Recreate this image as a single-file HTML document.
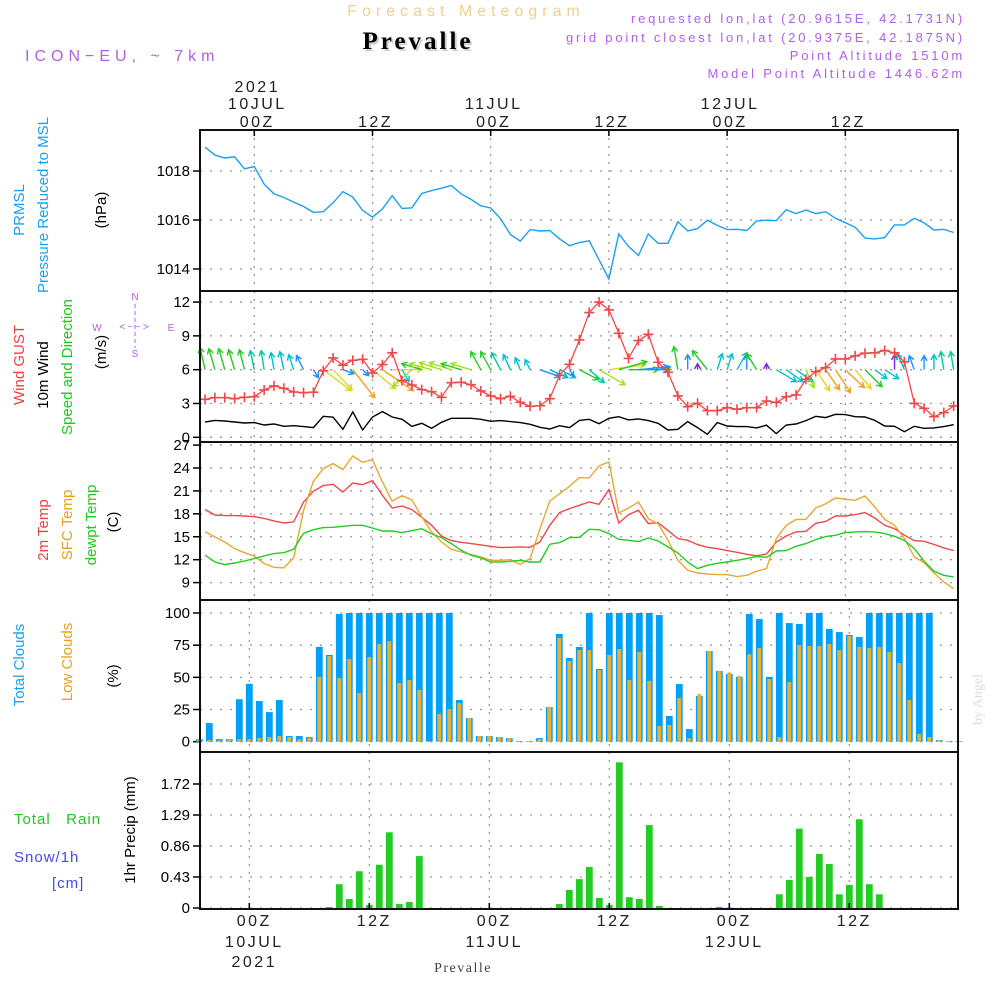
<!DOCTYPE html>
<html><head><meta charset="utf-8"><title>Prevalle Meteogram</title>
<style>
html,body{margin:0;padding:0;background:#fff;}
svg{display:block;font-family:"Liberation Sans",sans-serif;}
</style></head>
<body>
<svg id="chart" width="1000" height="1000" viewBox="0 0 1000 1000" xmlns="http://www.w3.org/2000/svg">
<rect x="0" y="0" width="1000" height="1000" fill="#fff"/>
<text x="466" y="16" text-anchor="middle" font-size="16" fill="#f2cf8c" letter-spacing="5">Forecast Meteogram</text>
<text x="418" y="49" text-anchor="middle" font-size="25" font-weight="bold" font-family="Liberation Serif,serif" fill="#c8d4c8" letter-spacing="3" transform="translate(2,2)">Prevalle</text>
<text x="418" y="49" text-anchor="middle" font-size="25" font-weight="bold" font-family="Liberation Serif,serif" fill="#000" letter-spacing="3">Prevalle</text>
<text x="25" y="61" font-size="16" fill="#b060e8" letter-spacing="5">ICON−EU, ~ 7km</text>
<g font-size="13" fill="#b060e8" text-anchor="end" letter-spacing="2.8">
<text x="965" y="23">requested lon,lat (20.9615E, 42.1731N)</text>
<text x="965" y="42">grid point closest lon,lat (20.9375E, 42.1875N)</text>
<text x="965" y="60">Point Altitude 1510m</text>
<text x="965" y="78">Model Point Altitude 1446.62m</text>
</g>
<text x="0" y="0" font-size="14" fill="#ddd" font-family="Liberation Serif,serif" transform="translate(982,725) rotate(-90)">by Angel</text>
<g id="labels" font-size="15">
<g>
<text transform="translate(24,210) rotate(-90)" text-anchor="middle" fill="#1aa0f0">PRMSL</text>
<text transform="translate(48,205) rotate(-90)" text-anchor="middle" fill="#1aa0f0">Pressure Reduced to MSL</text>
<text transform="translate(106,210) rotate(-90)" text-anchor="middle" fill="#000">(hPa)</text>
</g>
<g>
<text transform="translate(24,365) rotate(-90)" text-anchor="middle" fill="#f04040">Wind GUST</text>
<text transform="translate(48,375) rotate(-90)" text-anchor="middle" fill="#000">10m Wind</text>
<text transform="translate(72,367) rotate(-90)" text-anchor="middle" fill="#22c822">Speed and Direction</text>
<text transform="translate(106,352) rotate(-90)" text-anchor="middle" fill="#000">(m/s)</text>
</g>
<g font-size="10" fill="#b060e8">
<text x="135" y="300" text-anchor="middle">N</text>
<text x="135" y="357" text-anchor="middle">S</text>
<text x="97" y="331" text-anchor="middle">W</text>
<text x="171" y="331" text-anchor="middle">E</text>
<text x="135" y="330" text-anchor="middle" font-size="10" letter-spacing="2">&lt;−−&gt;</text>
<line x1="135" y1="304" x2="135" y2="348" stroke="#b060e8" stroke-dasharray="4,3"/>
</g>
<g>
<text transform="translate(48,530) rotate(-90)" text-anchor="middle" fill="#f04040">2m Temp</text>
<text transform="translate(72,525) rotate(-90)" text-anchor="middle" fill="#e8a020">SFC Temp</text>
<text transform="translate(96,525) rotate(-90)" text-anchor="middle" fill="#22c822">dewpt Temp</text>
<text transform="translate(118,522) rotate(-90)" text-anchor="middle" fill="#000">(C)</text>
</g>
<g>
<text transform="translate(24,665) rotate(-90)" text-anchor="middle" fill="#1aa0f0">Total Clouds</text>
<text transform="translate(72,662) rotate(-90)" text-anchor="middle" fill="#e8a020">Low Clouds</text>
<text transform="translate(118,676) rotate(-90)" text-anchor="middle" fill="#000">(%)</text>
</g>
<g>
<text x="14" y="824" fill="#22c822" letter-spacing="1" xml:space="preserve">Total   Rain</text>
<text x="14" y="862" fill="#4848f0" letter-spacing="1">Snow/1h</text>
<text x="52" y="888" fill="#4848f0" letter-spacing="1">[cm]</text>
<text transform="translate(135,830) rotate(-90)" text-anchor="middle" fill="#000">1hr Precip (mm)</text>
</g>
<text x="463" y="972" text-anchor="middle" font-size="14" font-family="Liberation Serif,serif" fill="#444" letter-spacing="1.5">Prevalle</text>
</g>
<g id="plot"></g>
</svg>
<script>
// ---- data (hourly, starting hour -5 relative to 00Z 10JUL) ----
const startHour = -5;
const pressure = [1018.97,1018.65,1018.53,1018.58,1018.09,1018.18,1017.46,1017.07,1016.92,1016.73,1016.55,1016.31,1016.34,1016.70,1017.16,1016.93,1016.39,1016.12,1016.45,1016.99,1016.47,1016.50,1017.08,1017.20,1017.30,1017.41,1017.07,1016.84,1016.58,1016.49,1016.05,1015.41,1015.14,1015.61,1015.55,1015.57,1015.23,1014.95,1015.08,1015.15,1014.38,1013.59,1015.43,1014.92,1014.55,1015.43,1015.05,1015.05,1015.93,1015.55,1015.65,1015.99,1015.78,1015.61,1015.62,1015.57,1015.96,1015.99,1015.97,1016.42,1016.26,1016.41,1016.26,1016.34,1016.07,1015.89,1015.70,1015.26,1015.23,1015.28,1015.80,1015.80,1016.07,1015.88,1015.59,1015.62,1015.49];
const windGust = [3.37,3.52,3.52,3.43,3.55,3.6,4.2,4.56,4.35,4.02,3.96,4.0,5.9,7.04,6.4,6.83,6.92,5.7,6.45,7.5,5.03,4.64,4.23,4.05,3.55,4.85,4.88,4.67,4.11,3.67,3.43,3.64,3.1,2.75,2.8,3.43,5.5,6.48,8.64,11.07,12.0,11.3,9.23,7.0,8.58,9.14,6.66,5.77,3.67,2.72,3.02,2.37,2.37,2.63,2.49,2.63,2.63,3.22,3.1,3.6,3.76,5.15,5.83,6.18,6.95,6.95,7.22,7.46,7.5,7.7,7.5,6.7,3.02,2.57,1.83,2.19,2.78];
const windSpeed = [1.36,1.5,1.45,1.36,1.27,1.3,1.09,1.18,0.98,1.03,0.95,0.86,1.86,1.78,0.71,2.25,0.65,1.8,2.28,1.8,1.6,0.98,1.24,0.8,1.33,1.69,1.69,1.69,1.6,1.42,1.48,1.39,1.3,1.15,0.89,0.74,1.03,0.86,1.5,1.6,1.21,1.69,1.83,1.54,1.63,1.48,1.24,0.65,0.71,1.39,0.86,0.27,1.3,1.0,0.95,0.95,0.83,1.07,0.33,1.09,1.18,1.48,1.86,1.75,2.04,2.01,1.83,1.8,1.5,1.0,0.98,0.5,0.98,0.8,0.83,0.95,1.12];
const arrowU = [-5,-6,-6,-6,-5,-4,-3,-3,-4,-5,-7,5,28,19,11,22,6,23,31,30,7,-19,-20,-22,-22,-22,-20,-20,-10,-10,-9,-7,-5,-5,20,18,16,4,19,15,26,36,28,30,30,20,12,2,-4,0,0,-15,5,5,10,0,-10,0,20,17,17,8,14,14,15,19,16,17,12,14,0,-7,-5,0,0,-3,-3];
const arrowV = [-22,-21,-21,-20,-20,-19,-19,-17,-18,-15,-14,8,21,20,4,28,6,19,21,0,12,17,-6,-6,-7,-7,-6,-6,-18,-18,-17,-15,-12,-10,7,8,8,7,10,13,15,-5,-8,0,-3,0,-3,-2,-23,-15,-6,-19,-16,-16,-17,-15,-16,-6,12,12,12,18,21,20,23,18,19,17,9,9,-15,-16,-14,-14,-15,-18,-18];
const arrowColor = ["g","g","g","g","g","t","t","c","c","c","b","b","y","y","b","o","b","y","o","y","c","yg","g","yg","yg","yg","g","yg","g","g","t","c","c","c","b","c","c","b","g","t","yg","y","g","g","b","b","b","g","g","b","p","g","c","c","c","b","g","p","c","c","t","yg","y","o","o","o","y","g","c","c","p","c","b","b","c","t","t"];
const temp2m = [18.55,17.85,17.77,17.77,17.72,17.63,17.4,17.07,16.8,16.94,19.55,20.95,21.7,21.86,20.86,22.04,21.82,22.35,20.43,18.77,19.03,18.55,17.55,16.5,15.1,14.5,14.28,14.1,13.93,13.75,13.58,13.62,13.67,13.62,14.32,16.5,18.16,18.68,19.12,19.55,19.25,21.17,16.8,17.9,18.46,16.72,16.85,15.8,14.76,14.54,13.97,13.62,13.45,13.19,12.97,12.7,12.5,12.75,14.32,15.1,15.63,15.72,16.76,17.0,17.72,17.72,17.9,18.16,17.46,16.5,16.06,15.2,14.5,14.41,14.0,13.54,13.19];
const tempSfc = [15.67,14.97,14.32,13.45,12.92,12.45,11.49,11.0,10.92,12.23,18.46,22.26,23.92,24.57,23.78,25.57,24.74,25.09,22.17,19.68,20.38,19.82,17.59,15.63,14.32,13.36,13.01,12.66,12.36,11.92,11.92,12.0,11.4,12.14,16.06,19.68,20.64,21.6,22.74,22.7,24.27,24.79,18.11,18.77,19.55,17.37,16.72,14.54,11.92,10.61,10.26,10.13,10.05,10.05,9.78,9.96,10.48,10.83,14.76,16.5,17.24,17.29,18.77,19.3,20.08,19.9,19.77,20.34,18.9,17.29,16.5,14.76,12.36,11.62,10.26,9.09,8.2];
const dewpoint = [12.58,11.7,11.35,11.57,11.83,12.14,12.49,12.79,12.92,13.36,15.45,15.93,16.2,16.24,16.37,16.5,16.5,16.15,15.76,15.76,15.54,15.8,16.06,15.37,14.89,14.1,13.23,12.58,12.23,11.7,11.7,11.79,11.92,11.7,11.7,14.02,14.23,14.89,14.93,15.98,15.93,15.41,14.67,14.54,14.36,14.84,14.45,13.67,12.88,11.7,10.83,11.27,11.53,11.7,11.92,12.14,12.4,12.31,13.14,13.19,13.75,14.1,14.63,15.02,15.19,15.54,15.63,15.67,15.63,15.41,15.06,14.54,13.45,11.79,10.48,9.96,9.74];
const totalCloud = [2,14.5,2,2,33,45,31.6,23,32.4,4.4,4.4,3.6,73.6,67.4,99.2,100,100,100,100,100,100,100,100,100,100,100,32.4,18.4,4.4,4.4,3.6,2.8,0.5,0.5,2.8,27,83.7,65,73.6,100,56.5,100,100,100,100,100,98.4,20,44.8,9.8,35.5,70.5,55,52.6,50.3,99.2,95.3,50.3,100,92.2,91.5,100,100,87.6,85.2,82.9,81.3,100,100,100,100,100,100,100,1.3,0.5,0.5];
const lowCloud = [2,1.3,1,2,2,2,3,3.6,4.4,3.6,2,3,50.3,66.6,49.5,64.2,37.8,65.8,75.9,78.2,45.6,47.9,40.2,0.5,21.5,25.4,30,18.4,4.4,4.4,3.6,2.8,0.5,0.5,2,27,80.6,62.7,71.2,71.2,55.7,67.4,72,47.9,69.7,47.2,12.2,13,34,2.8,37,70.5,55,53.4,51,68,72.8,48.7,3.6,46.4,75.1,74.4,74.4,75.9,71.2,82.1,73.6,72.8,73.6,69.7,61.1,32.4,6,3.6,1.3,0.5,0.5];
const precip = [0,0,0,0,0,0,0,0,0,0,0,0,0,0.014,0.33,0.125,0.51,0.04,0.6,1.05,0.055,0.083,0.72,0,0,0,0,0,0,0,0,0,0,0,0,0,0.055,0.25,0.4,0.57,0.14,0.04,2.02,0.15,0.125,1.15,0.028,0,0,0,0,0,0.014,0.005,0,0,0,0,0.19,0.39,1.1,0.43,0.75,0.61,0.19,0.32,1.23,0.33,0.19,0,0,0,0,0,0,0,0];
const pressureTicks = [1014,1016,1018];
const windTicks = [0,3,6,9,12];
const tempTicks = [9,12,15,18,21,24,27];
const cloudTicks = [0,25,50,75,100];
const precipTicks = [0,0.43,0.86,1.29,1.72];
const topTimeLabels = [[0,"2021","10JUL","00Z"],[12,"","","12Z"],[24,"","11JUL","00Z"],[36,"","","12Z"],[48,"","12JUL","00Z"],[60,"","","12Z"]];
const bottomTimeLabels = [[0,"00Z","10JUL","2021"],[12,"12Z","",""],[24,"00Z","11JUL",""],[36,"12Z","",""],[48,"00Z","12JUL",""],[60,"12Z","",""]];

// ---- axes ----
const L = 200, R = 958;
const xT = h => 254.3 + 9.85 * h;
const xB = h => 249.3 + 10 * h;
const yP = v => 171 + (1018 - v) * 24.5;
const yW = v => 437.3 - v * 11.27;
const yT = v => 468 + (24 - v) * 7.64;
const yC = v => 741.7 - v * 1.287;
const yR = v => 908 - v * 72.1;
const panels = [[130,291],[291,442],[442,600],[600,752],[752,909]];
const colors = {g:"#22cc22",t:"#00c8a0",c:"#00c0d0",b:"#1e90ff",y:"#e0d820",yg:"#a0e020",o:"#f0a020",p:"#8020e0"};

const NS = "http://www.w3.org/2000/svg";
const plot = document.getElementById("plot");
function mk(tag, attrs, parent){
  const e = document.createElementNS(NS, tag);
  for (const k in attrs) e.setAttribute(k, attrs[k]);
  (parent || plot).appendChild(e);
  return e;
}
const hourOf = i => startHour + i;

// grids
panels.forEach((p, pi) => {
  const g = mk("g", {});
  
  
  const xf = pi < 3 ? xT : xB;
  [0,12,24,36,48,60].forEach(h => {
    mk("line", {x1:xf(h), x2:xf(h), y1:p[0], y2:p[1], stroke:"#999", "stroke-dasharray":"2,6", "stroke-width":1.3}, g);
  });
});
function hgrid(ticks, yf, fmt, name){
  const g = mk("g", {"font-size":15, "text-anchor":"end"});
  
  
  ticks.forEach(t => {
    const y = yf(t);
    mk("line", {x1:L, x2:R, y1:y, y2:y, stroke:"#999", "stroke-dasharray":"2,8", "stroke-width":1.3}, g);
    mk("line", {x1:L-7, x2:L, y1:y, y2:y, stroke:"#000", "stroke-width":1.5}, g);
    const tx = mk("text", {x:L-10, y:y+5}, g);
    tx.textContent = fmt(t);
  });
}
hgrid(pressureTicks, yP, v => v, 'pressure-y-axis');
hgrid(windTicks, yW, v => v, 'wind-y-axis');
hgrid(tempTicks, yT, v => v, 'temp-y-axis');
hgrid(cloudTicks, yC, v => v, 'cloud-y-axis');
hgrid(precipTicks, yR, v => v === 0 ? "0" : v.toFixed(2), 'precip-y-axis');

function poly(arr, xf, yf, color, name, w){
  const pts = arr.map((v,i) => xf(hourOf(i)).toFixed(1) + "," + yf(v).toFixed(1)).join(" ");
  const e = mk("polyline", {points:pts, fill:"none", stroke:color, "stroke-width":w||1.4});
  
  
  return e;
}
poly(pressure, xT, yP, "#1aa0f0", 'pressure-line');

// wind arrows
const ag = mk("g", {"stroke-width":1.4, fill:"none"});


arrowU.forEach((u, i) => {
  const v = arrowV[i];
  const x0 = xT(hourOf(i)), y0 = yW(6);
  const x1 = x0 + u, y1 = y0 + v;
  const c = colors[arrowColor[i]];
  const len = Math.hypot(u, v) || 1;
  const ux = u/len, uy = v/len, hl = 6;
  const a = mk("path", {d:`M${x0},${y0}L${x1},${y1}M${x1-hl*(ux*0.87-uy*0.5)},${y1-hl*(uy*0.87+ux*0.5)}L${x1},${y1}L${x1-hl*(ux*0.87+uy*0.5)},${y1-hl*(uy*0.87-ux*0.5)}`, stroke:c}, ag);
  
  
});
poly(windGust, xT, yW, "#f04848", 'wind-gust-line', 1.3);
const gg = mk("g", {stroke:"#f04848", "stroke-width":1.6});


windGust.forEach((v, i) => {
  const x = xT(hourOf(i)), y = yW(v);
  const m = mk("path", {d:`M${x-5},${y}h10M${x},${y-5}v10`}, gg);
  
  
});
poly(windSpeed, xT, yW, "#000", 'wind-speed-line', 1.4);

poly(temp2m, xT, yT, "#f04848", 'temp-2m-line');
poly(tempSfc, xT, yT, "#e8a830", 'temp-sfc-line');
poly(dewpoint, xT, yT, "#22cc22", 'dewpoint-line');

const cg = mk("g", {});


totalCloud.forEach((v, i) => {
  const x = xB(hourOf(i));
  const b = mk("rect", {x:x-3.4, y:yC(v), width:6.8, height:Math.max(0, yC(0)-yC(v)), fill:"#00a0f8"}, cg);
  
  
  const o = mk("rect", {x:x-2, y:yC(lowCloud[i]), width:4, height:Math.max(0, yC(0)-yC(lowCloud[i])), fill:"#e8b030"}, cg);
  
  
});

const rg = mk("g", {});


precip.forEach((v, i) => {
  if (v <= 0) return;
  const x = xB(hourOf(i));
  const b = mk("rect", {x:x-3.4, y:yR(v), width:6.8, height:yR(0)-yR(v), fill:"#22cc22"}, rg);
  
  
});

panels.forEach((p, pi) => {
  const r = mk("rect", {x:L, y:p[0], width:R-L, height:p[1]-p[0], fill:"none", stroke:"#111", "stroke-width":2});
  
  
});

const tg = mk("g", {"font-size":16, "text-anchor":"middle", fill:"#222", "letter-spacing":2.5});


topTimeLabels.forEach(t => {
  const x = xT(t[0]) + 3;
  [[t[1],92],[t[2],109],[t[3],127]].forEach(s => { if (s[0]) { const e = mk("text", {x:x, y:s[1]}, tg); e.textContent = s[0]; } });
  mk("line", {x1:xT(t[0]), x2:xT(t[0]), y1:130, y2:136, stroke:"#000", "stroke-width":1.5}, tg);
});
const bg = mk("g", {"font-size":16, "text-anchor":"middle", fill:"#222", "letter-spacing":2.5});


bottomTimeLabels.forEach(t => {
  const x = xB(t[0]) + 5;
  [[t[1],926],[t[2],947],[t[3],967]].forEach(s => { if (s[0]) { const e = mk("text", {x:x, y:s[1]}, bg); e.textContent = s[0]; } });
  mk("line", {x1:xB(t[0]), x2:xB(t[0]), y1:903, y2:909, stroke:"#000", "stroke-width":1.5}, bg);
});
</script>
</body></html>
